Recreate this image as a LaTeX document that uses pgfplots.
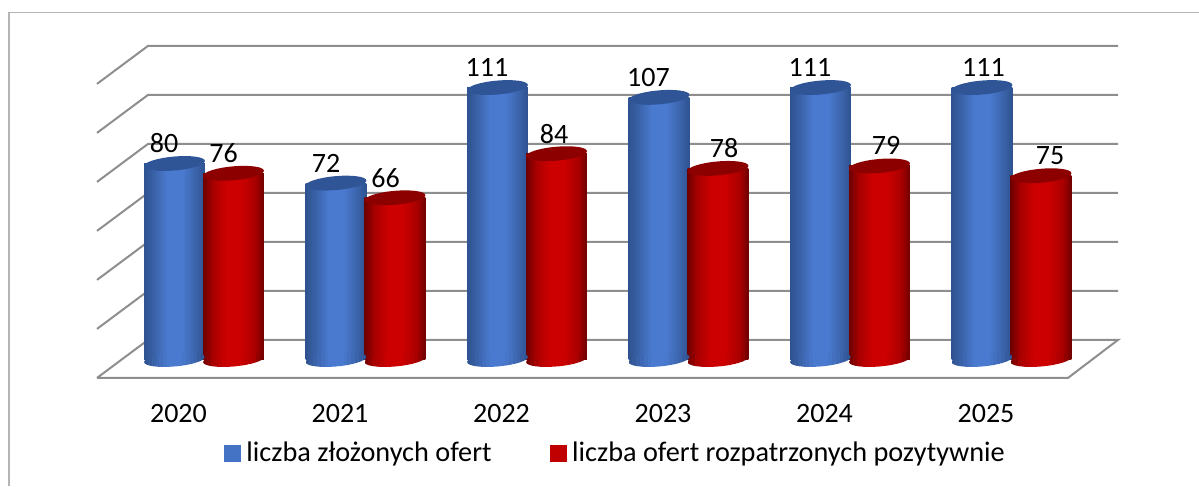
\documentclass[border=0pt]{standalone}
\usepackage{pgfplots}
\usepackage{pgfplotstable}
\usepackage{fontspec}
\setmainfont{Carlito}
\pgfplotsset{compat=1.18}
\definecolor{gridc}{HTML}{8E8E8E}
\definecolor{framec}{HTML}{B4B4B4}
\definecolor{legblue}{HTML}{4472C4}
\definecolor{legred}{HTML}{C00000}
\definecolor{capblue}{HTML}{2F5597}
\definecolor{capred}{HTML}{8C0000}
\definecolor{bE}{HTML}{2F5290}
\definecolor{bA}{HTML}{3A62A8}
\definecolor{bM}{HTML}{4A7AD0}
\definecolor{rE}{HTML}{6E0000}
\definecolor{rA}{HTML}{A80000}
\definecolor{rM}{HTML}{CC0000}
\pgfdeclarehorizontalshading{cylblue}{100bp}{
 color(0bp)=(bE); color(25bp)=(bE); color(33bp)=(bA); color(44bp)=(bM); color(56bp)=(bM); color(68bp)=(bA); color(75bp)=(bE); color(100bp)=(bE)}
\pgfdeclarehorizontalshading{cylred}{100bp}{
 color(0bp)=(rE); color(25bp)=(rE); color(33bp)=(rA); color(44bp)=(rM); color(56bp)=(rM); color(68bp)=(rA); color(75bp)=(rE); color(100bp)=(rE)}
\newcommand{\cylell}{\pgfpathellipse{\pgfpointorigin}{\pgfqpoint{22.8pt}{2pt}}{\pgfqpoint{-0.45pt}{5.2pt}}}
\newcommand{\cylstrip}[2]{\pgfsetfillcolor{#2}\pgfpathrectangle{\pgfpoint{-22.8pt+#1*2.85pt}{-8pt}}{\pgfpoint{2.95pt}{16pt}}\pgfusepathqfill}
\newcommand{\cylstrips}[3]{\begin{pgfscope}\cylell\pgfusepathqclip
 \cylstrip{0}{#1!80!#2}\cylstrip{1}{#1!45!#2}\cylstrip{2}{#2}\cylstrip{3}{#2!73!#3}%
 \cylstrip{4}{#2!45!#3}\cylstrip{5}{#2!18!#3}\cylstrip{6}{#3}\cylstrip{7}{#3}%
 \cylstrip{8}{#3}\cylstrip{9}{#3}\cylstrip{10}{#3!83!#2}\cylstrip{11}{#3!58!#2}%
 \cylstrip{12}{#3!33!#2}\cylstrip{13}{#3!8!#2}\cylstrip{14}{#2!64!#1}\cylstrip{15}{#2!21!#1}%
 \end{pgfscope}}
\pgfdeclareplotmark{capb}{\pgfsetfillcolor{capblue}\cylell\pgfusepathqfill}
\pgfdeclareplotmark{capr}{\pgfsetfillcolor{capred}\cylell\pgfusepathqfill}
\pgfdeclareplotmark{botb}{\cylstrips{bE}{bA}{bM}}
\pgfdeclareplotmark{botr}{\cylstrips{rE}{rA}{rM}}
\pgfplotstableread{
x v
-0.1827 80
0.8173 72
1.8173 111
2.8173 107
3.8173 111
4.8173 111
}\blue
\pgfplotstableread{
x v
0.1827 76
1.1827 66
2.1827 84
3.1827 78
4.1827 79
5.1827 75
}\red
\pgfplotstableread{
x v l
-0.2477 88.2 80
0.1207 84.2 76
0.7554 80.2 72
1.1238 74.2 66
1.7523 119.2 111
2.1672 92.2 84
2.7523 115.2 107
3.2198 86.2 78
3.7523 119.2 111
4.2229 87.2 79
4.8266 119.2 111
5.2384 83.2 75
}\labs
\pgfplotsset{
 blubar/.style={ybar,bar width=45.6pt,bar shift=0pt,draw=none,shade,shading=cylblue,forget plot},
 redbar/.style={ybar,bar width=45.6pt,bar shift=0pt,draw=none,shade,shading=cylred,forget plot},
}
\begin{document}
\begin{tikzpicture}
\path[use as bounding box] (0,0) rectangle (899.25pt,364.5pt);
\begin{axis}[
 scale only axis, width=899.25pt, height=364.5pt,
 xmin=-1.2632, xmax=6.161, ymin=-51.63, ymax=146.73,
 axis line style={draw=none}, tick style={draw=none},
 ytick=\empty,
 xtick={-0.158,0.842,1.842,2.842,3.842,4.842},
 xticklabels={2020,2021,2022,2023,2024,2025},
 xticklabel style={font=\fontsize{21}{24}\selectfont, anchor=center, yshift=54pt},
 clip=false,
 legend columns=2,
 legend style={at={(axis cs:0.1233,-38.2)},anchor=west,draw=none,fill=none,
   font=\fontsize{21.2}{24}\selectfont, column sep=0pt, inner sep=0pt, outer sep=0pt,
   /tikz/every even column/.append style={column sep=41.5pt}},
 legend cell align=left,
]
% frame
\addplot[framec,line width=0.8pt,forget plot] coordinates {(-1.2074,-51.63)(-1.2074,141.63)(6.161,141.63)};
% floor
\addplot[gridc,line width=1.5pt,forget plot] coordinates {(-0.6625,-7.51)(-0.3467,8)(5.6594,8)(5.3498,-7.51)(-0.6625,-7.51)};
% walls
\addplot[gridc,line width=1.5pt,forget plot] coordinates {(-0.6625,12.49)(-0.3467,28)(5.6594,28)};
\addplot[gridc,line width=1.5pt,forget plot] coordinates {(-0.6625,32.49)(-0.3467,48)(5.6594,48)};
\addplot[gridc,line width=1.5pt,forget plot] coordinates {(-0.6625,52.49)(-0.3467,68)(5.6594,68)};
\addplot[gridc,line width=1.5pt,forget plot] coordinates {(-0.6625,72.49)(-0.3467,88)(5.6594,88)};
\addplot[gridc,line width=1.5pt,forget plot] coordinates {(-0.6625,92.49)(-0.3467,108)(5.6594,108)};
\addplot[gridc,line width=1.5pt,forget plot] coordinates {(-0.6625,112.49)(-0.3467,128)(5.6594,128)};
% blue
\addplot[only marks,mark=botb,forget plot] coordinates {(-0.1827,0)(0.8173,0)(1.8173,0)(2.8173,0)(3.8173,0)(4.8173,0)};
\addplot[blubar] coordinates {(-0.1827,80)};
\addplot[blubar] coordinates {(0.8173,72)};
\addplot[blubar] coordinates {(1.8173,111)};
\addplot[blubar] coordinates {(2.8173,107)};
\addplot[blubar] coordinates {(3.8173,111)};
\addplot[blubar] coordinates {(4.8173,111)};
\addplot[only marks,mark=capb,forget plot] table[x=x,y=v]{\blue};
% red
\addplot[only marks,mark=botr,forget plot] coordinates {(0.1827,0)(1.1827,0)(2.1827,0)(3.1827,0)(4.1827,0)(5.1827,0)};
\addplot[redbar] coordinates {(0.1827,76)};
\addplot[redbar] coordinates {(1.1827,66)};
\addplot[redbar] coordinates {(2.1827,84)};
\addplot[redbar] coordinates {(3.1827,78)};
\addplot[redbar] coordinates {(4.1827,79)};
\addplot[redbar] coordinates {(5.1827,75)};
\addplot[only marks,mark=capr,forget plot] table[x=x,y=v]{\red};
% labels
\addplot[only marks,mark=none,forget plot,point meta=explicit symbolic,
  nodes near coords,
  every node near coord/.style={anchor=center,inner sep=0pt,font=\fontsize{21}{24}\selectfont}]
  table[x=x,y=v,meta=l]{\labs};
\addlegendimage{legend image code/.code={\fill[legblue] (0pt,-6pt) rectangle (12pt,6pt);}}
\addlegendentry{\hspace{2.5pt}liczba złożonych ofert}
\addlegendimage{legend image code/.code={\fill[legred] (0pt,-6pt) rectangle (12pt,6pt);}}
\addlegendentry{\hspace{2.5pt}liczba ofert rozpatrzonych pozytywnie}
\end{axis}
\end{tikzpicture}
\end{document}
